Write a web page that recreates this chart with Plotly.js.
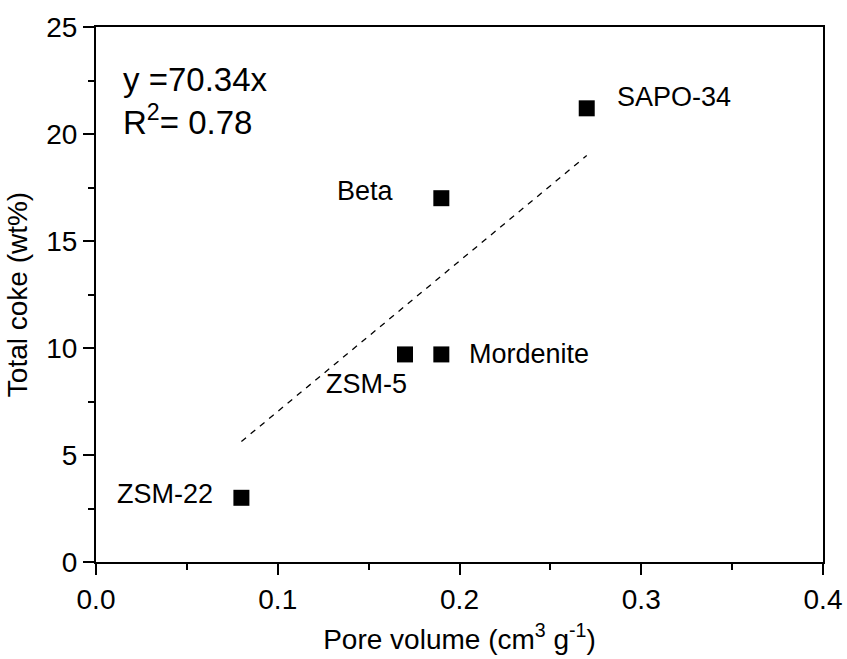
<!DOCTYPE html>
<html><head><meta charset="utf-8">
<script src="https://cdn.plot.ly/plotly-3.0.1.min.js"></script>
<style>html,body{margin:0;padding:0;background:#fff}#c{width:847px;height:659px}</style>
</head><body><div id="c"></div>
<script>
var samples = ["ZSM-22", "ZSM-5", "Mordenite", "Beta", "SAPO-34"];
var poreVolume = [0.08, 0.17, 0.19, 0.19, 0.27];
var totalCoke = [3.0, 9.7, 9.7, 17.0, 21.2];
var fitX = [0.08, 0.27];
var fitY = [5.63, 18.99];
var xTicks = [0.0, 0.1, 0.2, 0.3, 0.4];
var xTickText = ["0.0", "0.1", "0.2", "0.3", "0.4"];
var yTicks = [0, 5, 10, 15, 20, 25];
var equationText = "y =70.34x<br>R<sup>2</sup>= 0.78";

var font = "Liberation Sans, Arial, sans-serif";
// label offsets (px) relative to each data point
var labelShift = [
  {x: -26, y: 4, anchor: "right"},
  {x: 4, y: -30, anchor: "right"},
  {x: 26, y: 0, anchor: "left"},
  {x: -45, y: 7, anchor: "right"},
  {x: 28, y: 11, anchor: "left"}
];

var traces = [
  {x: fitX, y: fitY, mode: "lines", type: "scatter",
   line: {color: "#000", width: 1.3, dash: "6px,6px"}, hoverinfo: "skip", showlegend: false},
  {x: poreVolume, y: totalCoke, mode: "markers", type: "scatter",
   marker: {symbol: "square", size: 16, color: "#000"}, showlegend: false}
];

var annotations = samples.map(function(s, i) {
  return {x: poreVolume[i], y: totalCoke[i], xref: "x", yref: "y", text: s,
    showarrow: false, xanchor: labelShift[i].anchor, yanchor: "middle",
    xshift: labelShift[i].x, yshift: labelShift[i].y,
    font: {family: font, size: 27, color: "#000"}};
});
annotations.push({x: 0.035, y: 0.94, xref: "paper", yref: "paper", text: equationText,
  showarrow: false, xanchor: "left", yanchor: "top", align: "left",
  font: {family: font, size: 33, color: "#000"}});

var axisCommon = {
  showline: true, linecolor: "#000", linewidth: 2, mirror: true,
  ticks: "outside", ticklen: 11, tickwidth: 2, tickcolor: "#000",
  showgrid: false, zeroline: false,
  tickfont: {family: font, size: 28, color: "#000"}
};

var layout = {
  width: 847, height: 659,
  margin: {l: 96, r: 24, t: 27, b: 97},
  paper_bgcolor: "#fff", plot_bgcolor: "#fff",
  xaxis: Object.assign({}, axisCommon, {
    range: [0, 0.4], tickvals: xTicks, ticktext: xTickText,
    minor: {dtick: 0.05, ticks: "outside", ticklen: 6, tickwidth: 2, tickcolor: "#000"},
    title: {text: "Pore volume (cm<sup>3</sup> g<sup>-1</sup>)", font: {family: font, size: 28, color: "#000"}, standoff: 16}
  }),
  yaxis: Object.assign({}, axisCommon, {
    range: [0, 25], tickvals: yTicks,
    minor: {dtick: 2.5, ticks: "outside", ticklen: 6, tickwidth: 2, tickcolor: "#000"},
    title: {text: "Total coke (wt%)", font: {family: font, size: 28, color: "#000"}, standoff: 10}
  }),
  annotations: annotations
};

Plotly.newPlot("c", traces, layout, {displayModeBar: false, staticPlot: true});
</script></body></html>
